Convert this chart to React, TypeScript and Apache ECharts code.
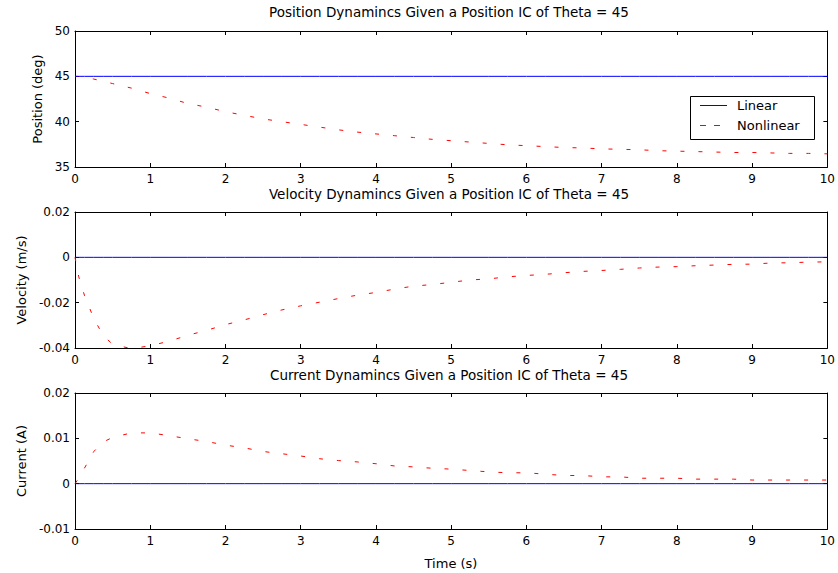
import React, { useEffect, useRef } from "react";
import * as echarts from "echarts";

const time = [0, 0.05, 0.125, 0.25, 0.375, 0.5, 0.75, 1, 1.25, 1.5, 1.75, 2, 2.25, 2.5, 2.75, 3, 3.25, 3.5, 3.75, 4, 4.25, 4.5, 4.75, 5, 5.25, 5.5, 5.75, 6, 6.25, 6.5, 6.75, 7, 7.25, 7.5, 7.75, 8, 8.25, 8.5, 8.75, 9, 9.25, 9.5, 9.75, 10];

const positionLinear = time.map(() => 45);
const positionNonlinear = [45, 44.98, 44.9, 44.7, 44.45, 44.2, 43.7, 43.1, 42.6, 42.0, 41.6, 41.1, 40.7, 40.3, 40.0, 39.7, 39.4, 39.1, 38.85, 38.65, 38.45, 38.25, 38.05, 37.9, 37.75, 37.6, 37.45, 37.35, 37.25, 37.15, 37.1, 37.0, 36.95, 36.9, 36.8, 36.75, 36.7, 36.65, 36.6, 36.6, 36.55, 36.5, 36.5, 36.45];

const velocityLinear = time.map(() => 0);
const velocityNonlinear = [0, -0.0086, -0.0167, -0.027, -0.0345, -0.0384, -0.0403, -0.039, -0.037, -0.0344, -0.0322, -0.0297, -0.0276, -0.0253, -0.0232, -0.0214, -0.0198, -0.0182, -0.0167, -0.0155, -0.014, -0.0127, -0.012, -0.011, -0.010, -0.0095, -0.0086, -0.008, -0.0075, -0.0068, -0.0062, -0.0058, -0.0053, -0.0047, -0.0043, -0.0041, -0.0037, -0.0034, -0.0031, -0.003, -0.0025, -0.0024, -0.0021, -0.002];

const currentLinear = time.map(() => 0);
const currentNonlinear = [0, 0.0012, 0.0034, 0.0071, 0.0092, 0.0102, 0.0112, 0.0112, 0.0106, 0.0099, 0.0093, 0.0085, 0.0079, 0.0071, 0.0066, 0.0061, 0.0055, 0.0051, 0.0048, 0.0044, 0.0039, 0.0037, 0.0034, 0.0032, 0.0029, 0.0026, 0.0024, 0.0024, 0.0021, 0.0018, 0.0018, 0.0015, 0.0015, 0.0012, 0.0012, 0.0012, 0.001, 0.001, 0.001, 0.0008, 0.0008, 0.0008, 0.0008, 0.0008];

const titles = [
  "Position Dynamincs Given a Position IC of Theta = 45",
  "Velocity Dynamincs Given a Position IC of Theta = 45",
  "Current Dynamincs Given a Position IC of Theta = 45",
];
const yNames = ["Position (deg)", "Velocity (m/s)", "Current (A)"];
const yMins = [35, -0.04, -0.01];
const yMaxs = [50, 0.02, 0.02];
const yIntervals = [5, 0.02, 0.01];
const legendNames = ["Linear", "Nonlinear"];

const FONT = "'DejaVu Sans', Arial, sans-serif";
const gridTops = [31, 212, 393];
const gridH = 136;
const gridLeft = 75;
const gridRight = 10;

export default function App() {
  const ref = useRef<HTMLDivElement>(null);
  useEffect(() => {
    if (!ref.current) return;
    const chart = echarts.init(ref.current, undefined, { renderer: "svg" });
    const linears = [positionLinear, velocityLinear, currentLinear];
    const nonlinears = [positionNonlinear, velocityNonlinear, currentNonlinear];
    const fmt = (v: number) => {
      if (Math.abs(v) < 1e-12) return "0";
      return String(Number(v.toFixed(4)));
    };
    const grids: any[] = [];
    const xAxes: any[] = [];
    const yAxes: any[] = [];
    const series: any[] = [];
    const tick = { show: true, inside: true, length: 4, lineStyle: { color: "#000" } };
    const line = { show: true, lineStyle: { color: "#000", width: 1 } };
    for (let i = 0; i < 3; i++) {
      grids.push({ left: gridLeft, right: gridRight, top: gridTops[i], height: gridH });
      xAxes.push({
        type: "value", gridIndex: i, min: 0, max: 10, interval: 1, position: "bottom",
        axisLine: { ...line, onZero: false }, axisTick: tick, splitLine: { show: false },
        axisLabel: { color: "#000", fontSize: 12, lineHeight: 12, fontFamily: FONT, margin: 6, showMaxLabel: true, showMinLabel: true },
      });
      xAxes.push({
        type: "value", gridIndex: i, min: 0, max: 10, interval: 1, position: "top",
        axisLine: { ...line, onZero: false }, axisTick: tick, splitLine: { show: false },
        axisLabel: { show: false },
      });
      yAxes.push({
        type: "value", gridIndex: i, min: yMins[i], max: yMaxs[i], interval: yIntervals[i], position: "left",
        axisLine: { ...line, onZero: false }, axisTick: tick, splitLine: { show: false },
        axisLabel: { color: "#000", fontSize: 12, lineHeight: 12, fontFamily: FONT, margin: 5, formatter: fmt },
        name: yNames[i], nameLocation: "middle", nameGap: i === 0 ? 29 : 47, nameRotate: 90,
        nameTextStyle: { color: "#000", fontSize: 13, fontFamily: FONT },
      });
      yAxes.push({
        type: "value", gridIndex: i, min: yMins[i], max: yMaxs[i], interval: yIntervals[i], position: "right",
        axisLine: { ...line, onZero: false }, axisTick: tick, splitLine: { show: false },
        axisLabel: { show: false },
      });
      series.push({
        type: "line", name: legendNames[1], xAxisIndex: i * 2, yAxisIndex: i * 2,
        data: time.map((t, k) => [t, nonlinears[i][k]]), showSymbol: false, symbol: "none",
        lineStyle: { color: "#ff0000", width: 1, type: [4, 14] }, clip: true,
      });
      series.push({
        type: "line", name: legendNames[0], xAxisIndex: i * 2, yAxisIndex: i * 2,
        data: time.map((t, k) => [t, linears[i][k]]), showSymbol: false, symbol: "none",
        lineStyle: { color: "#0000ff", width: 1 }, clip: true,
      });
    }
    const graphic: any[] = [];
    const titleYs = [12, 193.5, 375];
    for (let i = 0; i < 3; i++) {
      graphic.push({
        type: "text", x: 449, y: titleYs[i],
        style: { text: titles[i], fontSize: 13.5, lineHeight: 13, fontFamily: FONT, fill: "#000", textAlign: "center", textVerticalAlign: "middle" },
      });
    }
    graphic.push({
      type: "text", x: 451, y: 563,
      style: { text: "Time (s)", fontSize: 13, fontFamily: FONT, fill: "#000", textAlign: "center", textVerticalAlign: "middle" },
    });
    graphic.push({ type: "rect", shape: { x: 690.5, y: 96.5, width: 124, height: 43 }, style: { fill: "#fff", stroke: "#000", lineWidth: 1 }, z: 10 });
    graphic.push({ type: "line", shape: { x1: 700, y1: 105.5, x2: 727, y2: 105.5 }, style: { stroke: "#0000ff", lineWidth: 1 }, z: 11 });
    graphic.push({ type: "line", shape: { x1: 700, y1: 125.5, x2: 706, y2: 125.5 }, style: { stroke: "#ff0000", lineWidth: 1 }, z: 11 });
    graphic.push({ type: "line", shape: { x1: 714, y1: 125.5, x2: 720, y2: 125.5 }, style: { stroke: "#ff0000", lineWidth: 1 }, z: 11 });
    graphic.push({ type: "text", x: 737, y: 105, z: 11, style: { text: legendNames[0], fontSize: 13, fontFamily: FONT, fill: "#000", textVerticalAlign: "middle" } });
    graphic.push({ type: "text", x: 737, y: 125, z: 11, style: { text: legendNames[1], fontSize: 13, fontFamily: FONT, fill: "#000", textVerticalAlign: "middle" } });

    chart.setOption({
      animation: false,
      backgroundColor: "#fff",
      grid: grids,
      xAxis: xAxes,
      yAxis: yAxes,
      series,
      graphic,
    });
    return () => chart.dispose();
  }, []);
  return <div ref={ref} style={{ position: "fixed", left: 0, top: 0, width: 838, height: 573, background: "#fff" }} />;
}
